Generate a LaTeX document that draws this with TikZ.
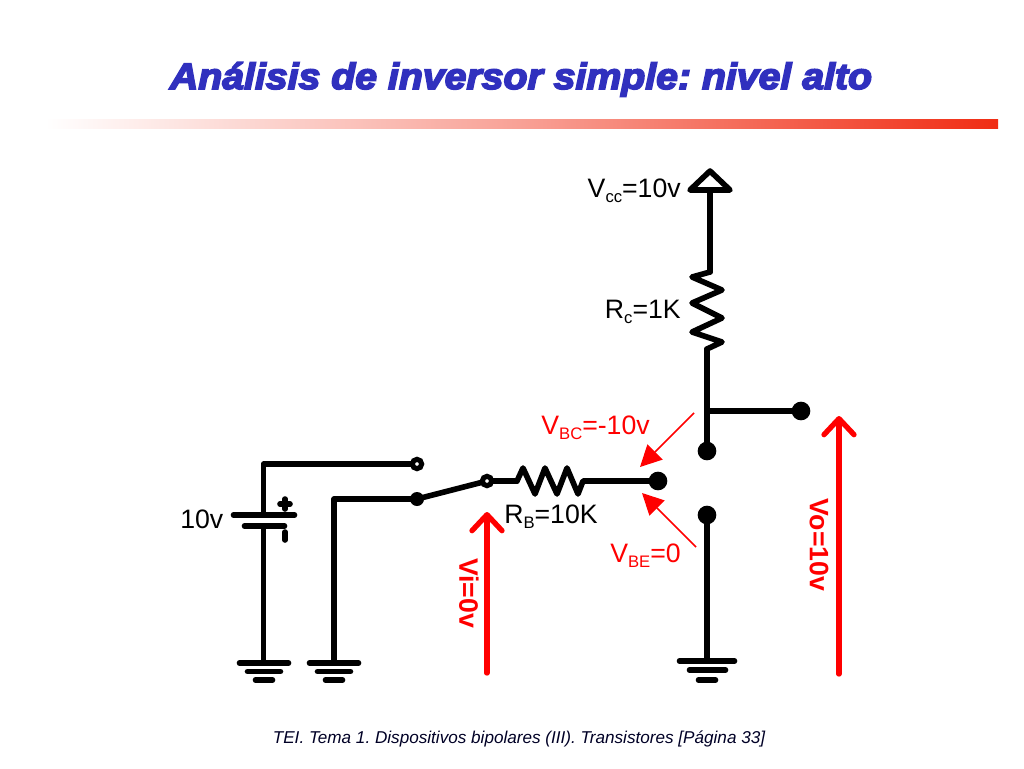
\documentclass[tikz,border=0pt]{standalone}
\usepackage{fontspec}
\usetikzlibrary{arrows.meta}
\setmainfont{Liberation Sans}
\newfontfamily\titlef[UprightFont={Liberation Sans Bold Italic},UprightFeatures={FakeBold=4.5,FakeStretch=1.07}]{Liberation Sans}
\newfontfamily\footf[UprightFont={Liberation Sans Italic}]{Liberation Sans}
\newcommand{\lowtxt}[1]{\raisebox{-0.22em}{\fontsize{12.5}{12.5}\selectfont #1}}
\definecolor{titleblue}{RGB}{48,48,190}
\definecolor{barred}{RGB}{240,45,20}
\frenchspacing
\tikzset{
  wire/.style={line width=4.2pt,line cap=round,line join=round,draw=black},
  plate/.style={line width=4.2pt,line cap=round,draw=black},
  fulldot/.style={circle,fill=black,inner sep=0pt,minimum size=14pt},
  smalldot/.style={circle,fill=black,inner sep=0pt,minimum size=10.5pt},
  opendot/.style={circle,draw=black,fill=white,line width=3.8pt,inner sep=0pt,minimum size=7pt},
  lab/.style={font=\fontsize{20}{22}\selectfont,inner sep=0pt},
  redlab/.style={lab,text=red},
  vlab/.style={font=\bfseries\fontsize{20}{22}\selectfont,text=red,inner sep=0pt,rotate=-90},
  bigarrow/.style={draw=red,line width=4pt,line cap=round,-{Straight Barb[round,length=12pt,width=22.5pt,line width=4pt]}},
  thinarrow/.style={draw=red,line width=1.1pt,-{Triangle[length=16pt,width=16pt,fill=red]}},
  pt/.style={inner sep=0pt,minimum size=0pt}
}
\begin{document}
\begin{tikzpicture}[x=0.75pt,y=-0.75pt]
\useasboundingbox (0,0) rectangle (1024,768);
\fill[white] (0,0) rectangle (1024,768);
% title & bar
\node[anchor=base,inner sep=0pt,text=titleblue,font=\titlef\fontsize{27.5}{30}\selectfont] (title) at (521,89) {Análisis de inversor simple: nivel alto};
\shade[left color=white,right color=barred,middle color=barred!45] (45,119) rectangle (998,128);
\node[anchor=base,inner sep=0pt,font=\footf\fontsize{12.85}{15}\selectfont,text=black!85!blue] (foot) at (519,743) {TEI. Tema 1. Dispositivos bipolares (III). Transistores [Página 33]};
% points
\coordinate (g1) at (263.5,663);
\coordinate (g2) at (334,663);
\coordinate (g3) at (707,661);
\coordinate (c1) at (263.5,464);
\coordinate (c2) at (334,499);
\coordinate (p1) at (263.5,515);
\coordinate (p2) at (263.5,526);
\coordinate (vcc) at (710,191);
\coordinate (rct) at (710,272);
\coordinate (rcb) at (707,349);
\coordinate (col) at (707,411);
\coordinate (rbl) at (517,481);
\coordinate (rbr) at (583,481);
\node[fulldot] (ndC) at (707,451) {};
\node[fulldot] (ndE) at (707,515) {};
\node[fulldot] (ndO) at (801,411) {};
\node[fulldot] (ndB) at (658,481) {};
\node[smalldot] (sw) at (417,499) {};
% wires
\draw[wire] (p2) -- (g1);
\draw[wire] (p1) -- (c1) -- (417,464);
\draw[wire] (g2) -- (c2) -- (sw.center);
\draw[wire] (sw.center) -- (487,481);
\draw[wire] (487,481) -- (rbl);
\draw[wire] (rbl) -- (523,468) -- (535,494) -- (545,468) -- (557,494) -- (567,468) -- (578,494) -- (rbr) -- (ndB.center);
\draw[wire] (vcc) -- (rct);
\draw[wire] (rct) -- (692,277) -- (722,290) -- (692,303) -- (722,318) -- (692,332) -- (722,342) -- (rcb);
\draw[wire] (rcb) -- (ndC.center);
\draw[wire] (col) -- (ndO.center);
\draw[wire] (ndE.center) -- (g3);
\draw[wire,line join=round] (690,190) -- (710,171) -- (730,190) -- cycle;
% switch contacts
\node[opendot] (sa) at (417,464) {};
\node[opendot] (sb) at (487,481) {};
% battery
\draw[plate] (233.5,515) -- (294.5,515);
\draw[plate] (244.5,526) -- (284.5,526);
\draw[plate] (285,499) -- (285,509);
\draw[plate] (280,504) -- (290,504);
\draw[plate] (285,532) -- (285,540);
% grounds
\draw[plate] (239.5,663) -- (288.5,663);
\draw[plate] (247.5,671.5) -- (280.5,671.5);
\draw[plate] (255.5,680) -- (272.5,680);
\draw[plate] (309.5,663) -- (358.5,663);
\draw[plate] (317.5,671.5) -- (350.5,671.5);
\draw[plate] (325.5,680) -- (342.5,680);
\draw[plate] (679.5,661) -- (734.5,661);
\draw[plate] (689.5,670) -- (725.5,670);
\draw[plate] (698.5,680) -- (715.5,680);
% red arrows
\coordinate (va) at (487,673); \coordinate (vb) at (487,512);
\coordinate (oa) at (839,674); \coordinate (ob) at (839,416);
\draw[bigarrow] (va) -- (vb);
\draw[bigarrow] (oa) -- (ob);
\coordinate (ta) at (694,413); \coordinate (tb) at (640,467);
\coordinate (ua) at (696,547); \coordinate (ub) at (642,493);
\draw[thinarrow] (ta) -- (tb);
\draw[thinarrow] (ua) -- (ub);
% labels
\node[lab,anchor=base east] (lvcc) at (681,197) {V\lowtxt{cc}=10v};
\node[lab,anchor=base east] (lrc) at (681,318) {R\lowtxt{c}=1K};
\node[lab,anchor=base west] (l10) at (180,528) {10v};
\node[lab,anchor=base west] (lrb) at (504,523) {R\lowtxt{B}=10K};
\node[redlab,anchor=base east] (lbc) at (650,434) {V\lowtxt{BC}=-10v};
\node[redlab,anchor=base east] (lbe) at (681,562) {V\lowtxt{BE}=0};
\node[vlab] (lvi) at (469,593) {Vi=0v};
\node[vlab] (lvo) at (819,545) {Vo=10v};
\end{tikzpicture}
\end{document}
